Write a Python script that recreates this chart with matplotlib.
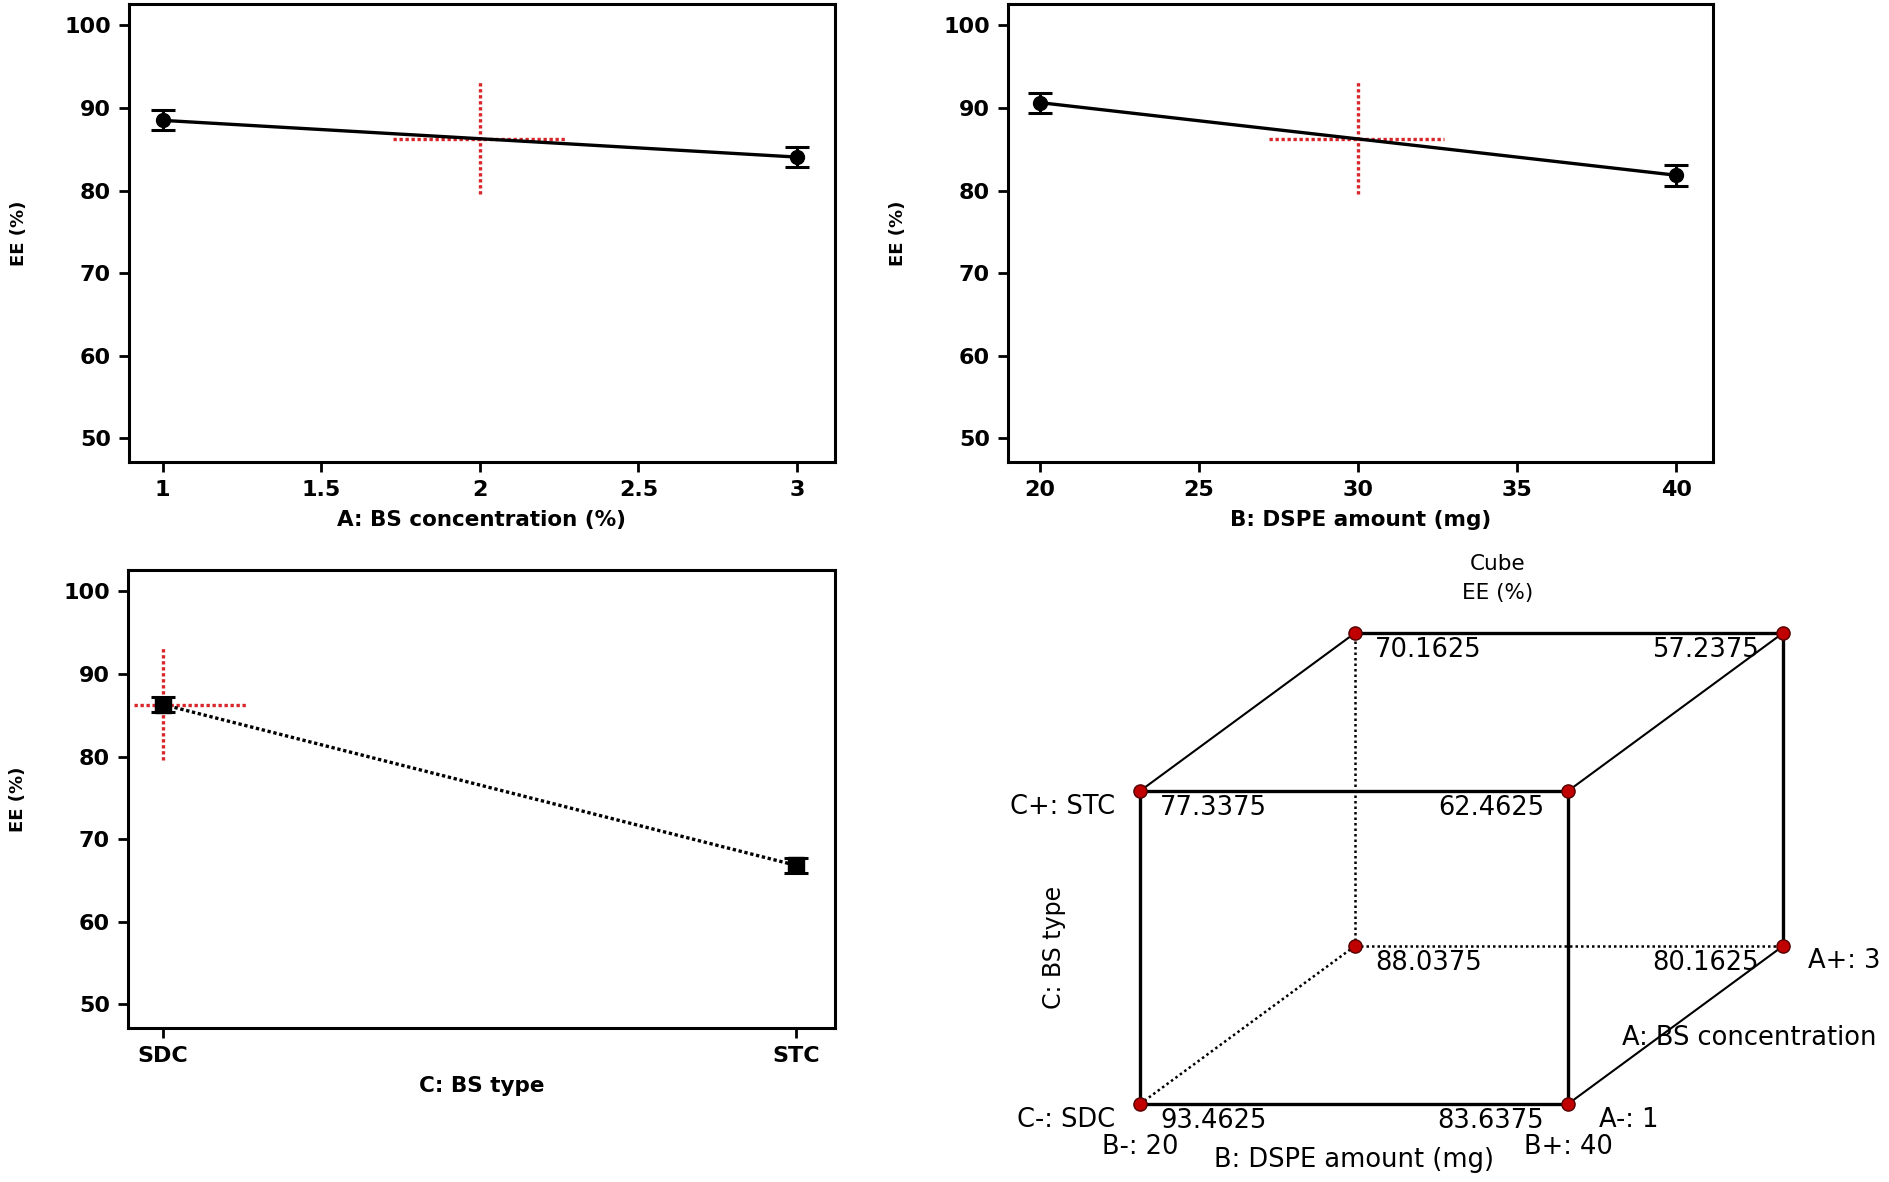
import matplotlib
matplotlib.use("Agg")
import matplotlib.pyplot as plt
import numpy as np

plt.rcParams['font.family'] = ['DejaVu Sans']

# ---------------- data ----------------
A_levels = [1, 3]
A_means = [88.5, 84.05]
A_err = [1.2, 1.25]
A_ticks = [1, 1.5, 2, 2.5, 3]
A_ticklabels = ['1', '1.5', '2', '2.5', '3']

B_levels = [20, 40]
B_means = [90.65, 81.85]
B_err = [1.2, 1.25]
B_ticks = [20, 25, 30, 35, 40]
B_ticklabels = ['20', '25', '30', '35', '40']

C_levels = ['SDC', 'STC']
C_means = [86.3, 66.8]
C_err = [0.9, 0.9]

y_ticks = [50, 60, 70, 80, 90, 100]

center_EE = 86.3
cross_low, cross_high = 79.6, 93.2
A_cross = [1.725, 2.27]
B_cross = [27.2, 32.7]
C_cross = [-0.045, 0.133]

cube_A = [1, 1, 1, 1, 3, 3, 3, 3]
cube_B = [20, 40, 20, 40, 20, 40, 20, 40]
cube_C = ['SDC', 'SDC', 'STC', 'STC', 'SDC', 'SDC', 'STC', 'STC']
cube_EE = [93.4625, 83.6375, 77.3375, 62.4625, 88.0375, 80.1625, 70.1625, 57.2375]

# ---------------- figure ----------------
W_PX, H_PX, DPI = 1890, 1182, 100
fig = plt.figure(figsize=(W_PX / DPI, H_PX / DPI), dpi=DPI)

def px_axes(left, top, right, bottom):
    return fig.add_axes([left / W_PX, 1 - bottom / H_PX, (right - left) / W_PX, (bottom - top) / H_PX])

tick_fs = 16
red = '#d9262b'

def style(ax):
    for s in ax.spines.values():
        s.set_linewidth(2.2)
    ax.tick_params(direction='out', length=7, width=2, labelsize=tick_fs, pad=6)
    ax.set_ylim(47.1, 102.6)
    ax.set_yticks(y_ticks)
    ax.set_yticklabels([str(v) for v in y_ticks], fontweight='bold')
    ax.set_ylabel('EE (%)', fontsize=13, fontweight='bold')
    ax.yaxis.set_label_coords(-0.143, 0.5)

def effect(ax, x, y, e, ls='-', marker='o', ms=10):
    ax.plot(x, y, color='black', lw=2.4, ls=ls, zorder=3)
    ax.errorbar(x, y, yerr=e, fmt=marker, color='black', ms=ms, capsize=8.5,
                capthick=2.2, elinewidth=2.2, zorder=4)

def cross(ax, xc, xr):
    ax.plot([xc, xc], [cross_low, cross_high], color=red, lw=2.4, ls=(0, (1, 0.8)), zorder=2)
    ax.plot(xr, [center_EE, center_EE], color=red, lw=2.4, ls=(0, (1, 0.8)), zorder=2)

# A panel
ax1 = px_axes(129, 4, 835, 462)
style(ax1)
cross(ax1, np.mean(A_levels), A_cross)
effect(ax1, A_levels, A_means, A_err)
rngA = A_levels[1] - A_levels[0]
ax1.set_xlim(A_levels[0] - 0.053 * rngA, A_levels[1] + 0.06 * rngA)
ax1.set_xticks(A_ticks)
ax1.set_xticklabels(A_ticklabels, fontweight='bold')
ax1.set_xlabel('A: BS concentration (%)', fontsize=15.5, fontweight='bold')
ax1.xaxis.set_label_coords(0.5, -0.105)

# B panel
ax2 = px_axes(1008, 4, 1713, 462)
style(ax2)
cross(ax2, np.mean(B_levels), B_cross)
effect(ax2, B_levels, B_means, B_err)
rngB = B_levels[1] - B_levels[0]
ax2.set_xlim(B_levels[0] - 0.05 * rngB, B_levels[1] + 0.058 * rngB)
ax2.set_xticks(B_ticks)
ax2.set_xticklabels(B_ticklabels, fontweight='bold')
ax2.set_xlabel('B: DSPE amount (mg)', fontsize=15.5, fontweight='bold')
ax2.xaxis.set_label_coords(0.5, -0.105)

# C panel
ax3 = px_axes(128, 570, 835, 1028)
style(ax3)
xc = np.arange(len(C_levels))
cross(ax3, xc[0], C_cross)
effect(ax3, xc, C_means, C_err, ls=(0, (1, 0.8)), marker='s', ms=11)
ax3.set_xlim(-0.055, 1.061)
ax3.set_xticks(xc)
ax3.set_xticklabels(C_levels, fontweight='bold')
ax3.set_xlabel('C: BS type', fontsize=15.5, fontweight='bold')
ax3.xaxis.set_label_coords(0.5, -0.105)

# ---------------- cube ----------------
axc = fig.add_axes([0, 0, 1, 1], zorder=5)
axc.set_xlim(0, W_PX)
axc.set_ylim(H_PX, 0)
axc.axis('off')
axc.patch.set_alpha(0)

X0, Y0 = 1140, 1104       # front-bottom-left corner (px)
CW, CH, DX, DY = 428, 313, 215, 158

def proj(A, B, C):
    a = (A - min(cube_A)) / (max(cube_A) - min(cube_A))
    b = (B - min(cube_B)) / (max(cube_B) - min(cube_B))
    c = C_levels.index(C)
    return X0 + b * CW + a * DX, Y0 - c * CH - a * DY

pts = [proj(a, b, c) for a, b, c in zip(cube_A, cube_B, cube_C)]
codes = [((a - 1) // 2, (b - 20) // 20, C_levels.index(c)) for a, b, c in zip(cube_A, cube_B, cube_C)]
hidden = (1, 0, 0)
for i in range(8):
    for j in range(i + 1, 8):
        diff = sum(u != v for u, v in zip(codes[i], codes[j]))
        if diff != 1:
            continue
        is_hidden = hidden in (codes[i], codes[j])
        depth_edge = codes[i][0] != codes[j][0]
        if is_hidden:
            lw = 1.8
        elif depth_edge:
            lw = 1.5
        else:
            lw = 2.4
        axc.plot([pts[i][0], pts[j][0]], [pts[i][1], pts[j][1]], color='black',
                 lw=lw, ls=(0, (1, 1.2)) if is_hidden else '-', zorder=1)

cfs = 18.5
for (x, y), code, v in zip(pts, codes, cube_EE):
    axc.plot(x, y, 'o', color='#c00000', mec='#500000', mew=1, ms=9.5, zorder=3)
    if code[1] == 0:
        axc.text(x + 20, y + 17, f'{v:.4f}', ha='left', va='center', fontsize=cfs)
    else:
        axc.text(x - 24, y + 17, f'{v:.4f}', ha='right', va='center', fontsize=cfs)

fbl = proj(1, 20, 'SDC'); fbr = proj(1, 40, 'SDC'); ftl = proj(1, 20, 'STC'); bbr = proj(3, 40, 'SDC')
axc.text(ftl[0] - 25, ftl[1] + 16, 'C+: STC', ha='right', va='center', fontsize=cfs)
axc.text(fbl[0] - 25, fbl[1] + 16, 'C-: SDC', ha='right', va='center', fontsize=cfs)
axc.text(fbl[0], fbl[1] + 43, 'B-: 20', ha='center', va='center', fontsize=cfs)
axc.text(fbr[0], fbr[1] + 43, 'B+: 40', ha='center', va='center', fontsize=cfs)
axc.text((fbl[0] + fbr[0]) / 2, fbl[1] + 56, 'B: DSPE amount (mg)', ha='center', va='center', fontsize=cfs)
axc.text(fbr[0] + 31, fbr[1] + 16, 'A-: 1', ha='left', va='center', fontsize=cfs)
axc.text(bbr[0] + 25, bbr[1] + 15, 'A+: 3', ha='left', va='center', fontsize=cfs)
axc.text((fbr[0] + bbr[0]) / 2 - 54, (fbr[1] + bbr[1]) / 2 + 13, 'A: BS concentration',
         ha='left', va='center', fontsize=cfs)
axc.text(fbl[0] - 86, (fbl[1] + ftl[1]) / 2, 'C: BS type', ha='center', va='center',
         rotation=90, fontsize=17)
axc.text(1498, 564, 'Cube', ha='center', va='center', fontsize=15.5)
axc.text(1498, 593, 'EE (%)', ha='center', va='center', fontsize=15.5)

fig.savefig('out.png', dpi=DPI)
